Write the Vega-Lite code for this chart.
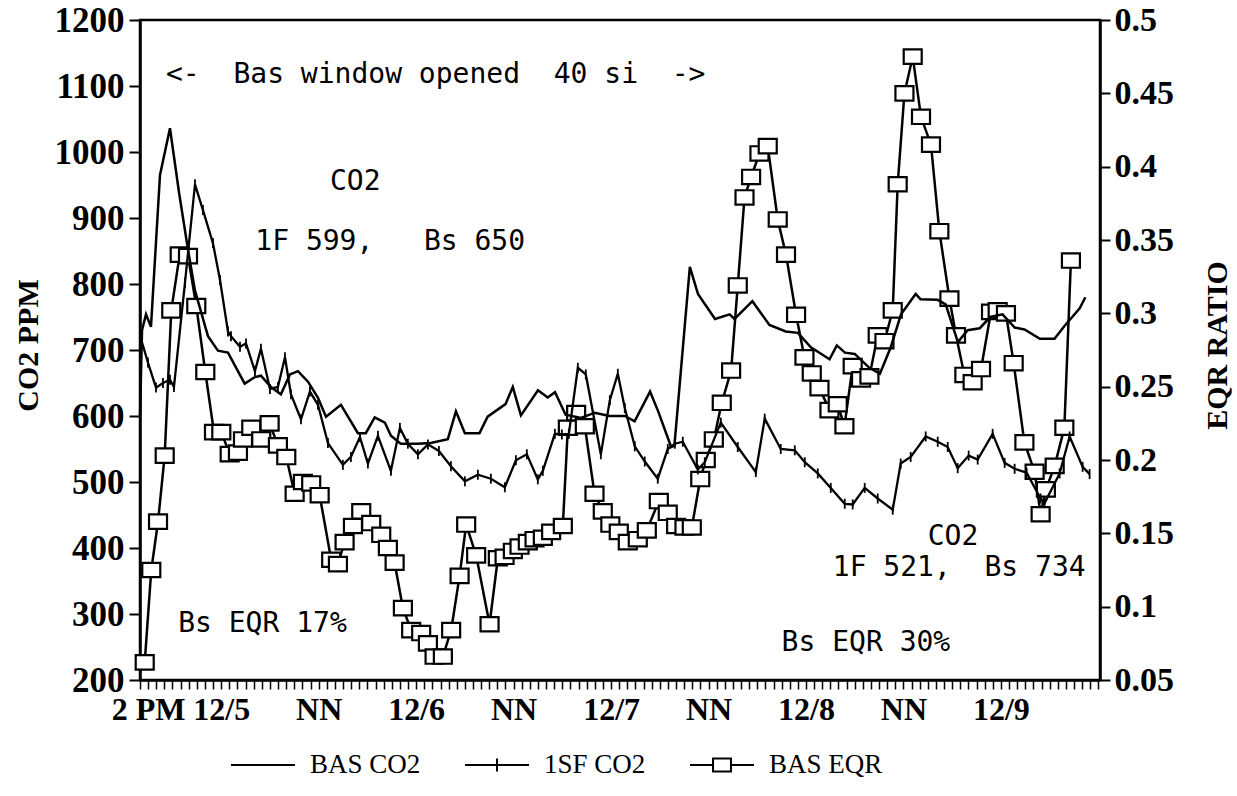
{
  "$schema": "https://vega.github.io/schema/vega-lite/v6.json",
  "width": 960,
  "height": 660,
  "autosize": {"type": "none"},
  "padding": {"left": 140, "top": 20, "right": 137, "bottom": 116},
  "background": "white",
  "config": {
    "view": {"stroke": "black", "strokeWidth": 2.5},
    "axis": {
      "grid": false,
      "domainColor": "black",
      "domainWidth": 2.5,
      "tickColor": "black",
      "tickWidth": 2,
      "labelColor": "black",
      "labelFont": "Liberation Serif",
      "labelFontWeight": "bold",
      "labelFontSize": 34,
      "titleColor": "black",
      "titleFont": "Liberation Serif",
      "titleFontWeight": "bold",
      "titleFontSize": 30
    }
  },
  "datasets": {
    "bas": [
      {"hour": 0, "ppm": 600}, {"hour": 0.25, "ppm": 730}, {"hour": 0.74, "ppm": 754}, {"hour": 1.35, "ppm": 735},
      {"hour": 2.46, "ppm": 965}, {"hour": 3.69, "ppm": 1036}, {"hour": 4.8, "ppm": 939}, {"hour": 5.91, "ppm": 852},
      {"hour": 6.77, "ppm": 790}, {"hour": 8.37, "ppm": 721}, {"hour": 9.6, "ppm": 699}, {"hour": 10.83, "ppm": 696},
      {"hour": 12.89, "ppm": 649}, {"hour": 14.15, "ppm": 659}, {"hour": 14.89, "ppm": 661}, {"hour": 16.12, "ppm": 644},
      {"hour": 17.35, "ppm": 633}, {"hour": 18.46, "ppm": 663}, {"hour": 19.45, "ppm": 668}, {"hour": 20.68, "ppm": 652},
      {"hour": 21.9, "ppm": 628}, {"hour": 22.9, "ppm": 599}, {"hour": 24.74, "ppm": 617}, {"hour": 26.83, "ppm": 574},
      {"hour": 27.8, "ppm": 574}, {"hour": 28.9, "ppm": 598}, {"hour": 30.15, "ppm": 590}, {"hour": 30.9, "ppm": 570},
      {"hour": 32.1, "ppm": 558}, {"hour": 34.2, "ppm": 558}, {"hour": 35.8, "ppm": 559}, {"hour": 37.9, "ppm": 565},
      {"hour": 38.9, "ppm": 607}, {"hour": 40.0, "ppm": 574}, {"hour": 41.8, "ppm": 574}, {"hour": 42.8, "ppm": 599},
      {"hour": 45.0, "ppm": 618}, {"hour": 45.9, "ppm": 644}, {"hour": 46.9, "ppm": 601}, {"hour": 49.0, "ppm": 639},
      {"hour": 50.2, "ppm": 628}, {"hour": 51.1, "ppm": 636}, {"hour": 52.4, "ppm": 602}, {"hour": 54.3, "ppm": 597},
      {"hour": 56.0, "ppm": 605}, {"hour": 57.8, "ppm": 600}, {"hour": 59.7, "ppm": 600}, {"hour": 60.9, "ppm": 592},
      {"hour": 62.8, "ppm": 637}, {"hour": 63.8, "ppm": 607}, {"hour": 65.4, "ppm": 553}, {"hour": 65.8, "ppm": 555},
      {"hour": 67.7, "ppm": 826}, {"hour": 68.7, "ppm": 785}, {"hour": 70.8, "ppm": 747}, {"hour": 72.6, "ppm": 754},
      {"hour": 73.2, "ppm": 747}, {"hour": 75.4, "ppm": 774}, {"hour": 77.5, "ppm": 738}, {"hour": 79.5, "ppm": 728},
      {"hour": 81.0, "ppm": 726}, {"hour": 82.6, "ppm": 704}, {"hour": 84.9, "ppm": 686}, {"hour": 85.8, "ppm": 707},
      {"hour": 86.8, "ppm": 696}, {"hour": 88.0, "ppm": 694}, {"hour": 89.8, "ppm": 673}, {"hour": 91.1, "ppm": 664},
      {"hour": 92.4, "ppm": 703}, {"hour": 93.7, "ppm": 754}, {"hour": 95.5, "ppm": 785}, {"hour": 96.1, "ppm": 777},
      {"hour": 98.2, "ppm": 776}, {"hour": 99.2, "ppm": 769}, {"hour": 100.7, "ppm": 712}, {"hour": 101.9, "ppm": 730},
      {"hour": 103.4, "ppm": 733}, {"hour": 104.7, "ppm": 750}, {"hour": 106.2, "ppm": 754}, {"hour": 107.7, "ppm": 734},
      {"hour": 108.9, "ppm": 731}, {"hour": 110.8, "ppm": 717}, {"hour": 112.6, "ppm": 717}, {"hour": 113.8, "ppm": 736},
      {"hour": 115.7, "ppm": 763}, {"hour": 116.4, "ppm": 780}
    ],
    "sf": [
      {"hour": 0.12, "ppm": 717}, {"hour": 0.98, "ppm": 681}, {"hour": 1.97, "ppm": 643}, {"hour": 2.83, "ppm": 650},
      {"hour": 3.69, "ppm": 655}, {"hour": 4.18, "ppm": 644}, {"hour": 5.54, "ppm": 802}, {"hour": 6.77, "ppm": 951},
      {"hour": 7.75, "ppm": 912}, {"hour": 8.98, "ppm": 862}, {"hour": 9.85, "ppm": 806}, {"hour": 10.83, "ppm": 728},
      {"hour": 11.2, "ppm": 721}, {"hour": 12.31, "ppm": 705}, {"hour": 13.05, "ppm": 710}, {"hour": 14.15, "ppm": 668},
      {"hour": 14.89, "ppm": 702}, {"hour": 16.0, "ppm": 641}, {"hour": 16.98, "ppm": 644}, {"hour": 17.85, "ppm": 689},
      {"hour": 18.58, "ppm": 633}, {"hour": 19.82, "ppm": 595}, {"hour": 20.92, "ppm": 637}, {"hour": 21.91, "ppm": 617},
      {"hour": 23.14, "ppm": 559}, {"hour": 24.98, "ppm": 526}, {"hour": 25.97, "ppm": 538}, {"hour": 27.08, "ppm": 568},
      {"hour": 28.06, "ppm": 528}, {"hour": 29.29, "ppm": 570}, {"hour": 30.89, "ppm": 517}, {"hour": 32.0, "ppm": 582},
      {"hour": 32.98, "ppm": 558}, {"hour": 34.22, "ppm": 542}, {"hour": 35.45, "ppm": 557}, {"hour": 36.8, "ppm": 547},
      {"hour": 38.28, "ppm": 524}, {"hour": 40.0, "ppm": 501}, {"hour": 41.6, "ppm": 511}, {"hour": 43.2, "ppm": 505},
      {"hour": 44.92, "ppm": 492}, {"hour": 46.28, "ppm": 533}, {"hour": 47.63, "ppm": 542}, {"hour": 48.98, "ppm": 504},
      {"hour": 49.6, "ppm": 517}, {"hour": 51.08, "ppm": 573}, {"hour": 51.94, "ppm": 572}, {"hour": 52.8, "ppm": 573},
      {"hour": 53.91, "ppm": 673}, {"hour": 54.89, "ppm": 663}, {"hour": 56.74, "ppm": 542}, {"hour": 57.85, "ppm": 624},
      {"hour": 58.83, "ppm": 664}, {"hour": 59.69, "ppm": 612}, {"hour": 60.92, "ppm": 554}, {"hour": 62.15, "ppm": 531},
      {"hour": 63.75, "ppm": 505}, {"hour": 64.98, "ppm": 550}, {"hour": 65.85, "ppm": 558}, {"hour": 66.83, "ppm": 561},
      {"hour": 68.68, "ppm": 519}, {"hour": 69.54, "ppm": 530}, {"hour": 71.51, "ppm": 590}, {"hour": 73.6, "ppm": 553},
      {"hour": 75.82, "ppm": 515}, {"hour": 76.92, "ppm": 596}, {"hour": 78.89, "ppm": 550}, {"hour": 80.62, "ppm": 548},
      {"hour": 81.85, "ppm": 530}, {"hour": 83.45, "ppm": 513}, {"hour": 85.05, "ppm": 491}, {"hour": 86.77, "ppm": 467},
      {"hour": 87.75, "ppm": 466}, {"hour": 89.23, "ppm": 491}, {"hour": 90.83, "ppm": 475}, {"hour": 92.68, "ppm": 458},
      {"hour": 93.66, "ppm": 528}, {"hour": 94.89, "ppm": 538}, {"hour": 96.74, "ppm": 569}, {"hour": 98.22, "ppm": 561},
      {"hour": 99.45, "ppm": 553}, {"hour": 100.68, "ppm": 521}, {"hour": 102.03, "ppm": 540}, {"hour": 103.14, "ppm": 534},
      {"hour": 104.98, "ppm": 573}, {"hour": 106.46, "ppm": 529}, {"hour": 107.69, "ppm": 520}, {"hour": 109.17, "ppm": 514},
      {"hour": 110.89, "ppm": 475}, {"hour": 111.38, "ppm": 468}, {"hour": 113.23, "ppm": 513}, {"hour": 114.46, "ppm": 569},
      {"hour": 116.06, "ppm": 523}, {"hour": 116.92, "ppm": 512}
    ],
    "eqr": [
      {"hour": 0.58, "eqr": 0.062}, {"hour": 1.39, "eqr": 0.125}, {"hour": 2.22, "eqr": 0.158}, {"hour": 3.04, "eqr": 0.203},
      {"hour": 3.85, "eqr": 0.302}, {"hour": 4.89, "eqr": 0.340}, {"hour": 5.91, "eqr": 0.339}, {"hour": 6.93, "eqr": 0.305},
      {"hour": 8.04, "eqr": 0.260}, {"hour": 9.11, "eqr": 0.219}, {"hour": 10.01, "eqr": 0.219}, {"hour": 11.04, "eqr": 0.204},
      {"hour": 12.06, "eqr": 0.205}, {"hour": 12.68, "eqr": 0.214}, {"hour": 13.70, "eqr": 0.222}, {"hour": 14.93, "eqr": 0.214},
      {"hour": 15.96, "eqr": 0.225}, {"hour": 16.98, "eqr": 0.210}, {"hour": 18.01, "eqr": 0.202}, {"hour": 19.04, "eqr": 0.177},
      {"hour": 20.06, "eqr": 0.185}, {"hour": 21.08, "eqr": 0.184}, {"hour": 22.12, "eqr": 0.176}, {"hour": 23.54, "eqr": 0.132},
      {"hour": 24.37, "eqr": 0.129}, {"hour": 25.19, "eqr": 0.144}, {"hour": 26.22, "eqr": 0.155}, {"hour": 27.24, "eqr": 0.165},
      {"hour": 28.47, "eqr": 0.157}, {"hour": 29.70, "eqr": 0.149}, {"hour": 30.52, "eqr": 0.140}, {"hour": 31.35, "eqr": 0.130},
      {"hour": 32.37, "eqr": 0.099}, {"hour": 33.39, "eqr": 0.084}, {"hour": 34.62, "eqr": 0.082}, {"hour": 35.45, "eqr": 0.075},
      {"hour": 36.27, "eqr": 0.066}, {"hour": 37.29, "eqr": 0.066}, {"hour": 38.31, "eqr": 0.084}, {"hour": 39.35, "eqr": 0.121},
      {"hour": 40.16, "eqr": 0.156}, {"hour": 41.39, "eqr": 0.135}, {"hour": 43.04, "eqr": 0.088}, {"hour": 44.06, "eqr": 0.133},
      {"hour": 44.89, "eqr": 0.134}, {"hour": 45.91, "eqr": 0.138}, {"hour": 46.73, "eqr": 0.141}, {"hour": 47.75, "eqr": 0.144},
      {"hour": 48.58, "eqr": 0.146}, {"hour": 49.60, "eqr": 0.147}, {"hour": 50.62, "eqr": 0.151}, {"hour": 52.06, "eqr": 0.155},
      {"hour": 52.68, "eqr": 0.222}, {"hour": 53.70, "eqr": 0.232}, {"hour": 54.77, "eqr": 0.223}, {"hour": 55.96, "eqr": 0.177},
      {"hour": 56.98, "eqr": 0.165}, {"hour": 57.91, "eqr": 0.156}, {"hour": 58.95, "eqr": 0.151}, {"hour": 60.06, "eqr": 0.144},
      {"hour": 61.29, "eqr": 0.146}, {"hour": 62.40, "eqr": 0.152}, {"hour": 63.88, "eqr": 0.172}, {"hour": 64.98, "eqr": 0.164},
      {"hour": 66.01, "eqr": 0.155}, {"hour": 67.04, "eqr": 0.154}, {"hour": 67.94, "eqr": 0.154}, {"hour": 68.98, "eqr": 0.187},
      {"hour": 69.66, "eqr": 0.200}, {"hour": 70.65, "eqr": 0.214}, {"hour": 71.63, "eqr": 0.239}, {"hour": 72.78, "eqr": 0.261},
      {"hour": 73.60, "eqr": 0.319}, {"hour": 74.43, "eqr": 0.379}, {"hour": 75.24, "eqr": 0.393}, {"hour": 76.27, "eqr": 0.409},
      {"hour": 77.29, "eqr": 0.414}, {"hour": 78.52, "eqr": 0.364}, {"hour": 79.54, "eqr": 0.340}, {"hour": 80.78, "eqr": 0.299},
      {"hour": 81.81, "eqr": 0.270}, {"hour": 82.71, "eqr": 0.259}, {"hour": 83.66, "eqr": 0.249}, {"hour": 84.89, "eqr": 0.234},
      {"hour": 85.91, "eqr": 0.238}, {"hour": 86.73, "eqr": 0.223}, {"hour": 87.75, "eqr": 0.264}, {"hour": 88.78, "eqr": 0.255},
      {"hour": 89.81, "eqr": 0.257}, {"hour": 90.83, "eqr": 0.285}, {"hour": 91.66, "eqr": 0.281}, {"hour": 92.68, "eqr": 0.302},
      {"hour": 93.29, "eqr": 0.388}, {"hour": 94.12, "eqr": 0.450}, {"hour": 95.14, "eqr": 0.475}, {"hour": 96.16, "eqr": 0.434},
      {"hour": 97.39, "eqr": 0.415}, {"hour": 98.42, "eqr": 0.356}, {"hour": 99.66, "eqr": 0.310}, {"hour": 100.47, "eqr": 0.285},
      {"hour": 101.50, "eqr": 0.258}, {"hour": 102.52, "eqr": 0.253}, {"hour": 103.55, "eqr": 0.262}, {"hour": 104.78, "eqr": 0.301},
      {"hour": 105.60, "eqr": 0.302}, {"hour": 106.62, "eqr": 0.300}, {"hour": 107.57, "eqr": 0.266}, {"hour": 108.89, "eqr": 0.212},
      {"hour": 110.15, "eqr": 0.192}, {"hour": 110.89, "eqr": 0.163}, {"hour": 111.54, "eqr": 0.180}, {"hour": 112.62, "eqr": 0.196},
      {"hour": 113.81, "eqr": 0.222}, {"hour": 114.62, "eqr": 0.336}
    ],
    "notesLeft": [
      {"hour": 3.2, "ppm": 1117, "label": "<-\u00a0\u00a0Bas window opened\u00a0\u00a040 si\u00a0\u00a0->"},
      {"hour": 14.2, "ppm": 864, "label": "1F 599,\u00a0\u00a0\u00a0Bs 650"},
      {"hour": 4.7, "ppm": 285, "label": "Bs EQR 17%"},
      {"hour": 85.3, "ppm": 370, "label": "1F 521,\u00a0\u00a0Bs 734"},
      {"hour": 79.0, "ppm": 256, "label": "Bs EQR 30%"}
    ],
    "notesCenter": [
      {"hour": 26.5, "ppm": 955, "label": "CO2"},
      {"hour": 100.1, "ppm": 417, "label": "CO2"}
    ]
  },
  "layer": [
    {
      "layer": [
        {
          "data": {"name": "eqr"},
          "mark": {"type": "line", "strokeWidth": 2.5},
          "encoding": {
            "x": {"field": "hour", "type": "quantitative", "scale": {"domain": [0, 118.2], "nice": false, "zero": false},
              "axis": {
                "title": null,
                "values": [0,1,2,3,4,5,6,7,8,9,10,11,12,13,14,15,16,17,18,19,20,21,22,23,24,25,26,27,28,29,30,31,32,33,34,35,36,37,38,39,40,41,42,43,44,45,46,47,48,49,50,51,52,53,54,55,56,57,58,59,60,61,62,63,64,65,66,67,68,69,70,71,72,73,74,75,76,77,78,79,80,81,82,83,84,85,86,87,88,89,90,91,92,93,94,95,96,97,98,99,100,101,102,103,104,105,106,107,108,109,110,111,112,113,114,115,116,117,118],
                "tickCount": 200,
                "labelExpr": "datum.value == 1 ? '2 PM' : datum.value == 10 ? '12/5' : (datum.value == 22 || datum.value == 46 || datum.value == 70 || datum.value == 94) ? 'NN' : datum.value == 34 ? '12/6' : datum.value == 58 ? '12/7' : datum.value == 82 ? '12/8' : datum.value == 106 ? '12/9' : ''",
                "labelOverlap": false,
                "labelFlush": false,
                "labelFontSize": 32,
                "tickSize": 9,
                "tickWidth": 1.5,
                "labelPadding": 5
              }
            },
            "y": {"field": "eqr", "type": "quantitative", "scale": {"domain": [0.05, 0.5], "nice": false, "zero": false},
              "axis": {
                "orient": "right",
                "values": [0.05, 0.1, 0.15, 0.2, 0.25, 0.3, 0.35, 0.4, 0.45, 0.5],
                "tickCount": 20,
                "format": "~g",
                "tickSize": 10,
                "labelPadding": 4,
                "title": "EQR  RATIO",
                "titleAngle": 270,
                "titleX": 117,
                "titleY": 325,
                "titleAlign": "center",
                "titleBaseline": "middle"
              }
            },
            "color": {"datum": "BAS EQR"}
          }
        },
        {
          "data": {"name": "eqr"},
          "mark": {"type": "point", "shape": "M-1,-0.8H1V0.8H-1Z", "size": 324, "filled": false, "fill": "white", "fillOpacity": 1, "strokeWidth": 2.2, "opacity": 1},
          "encoding": {
            "x": {"field": "hour", "type": "quantitative", "scale": {"domain": [0, 118.2], "nice": false, "zero": false}},
            "y": {"field": "eqr", "type": "quantitative"},
            "color": {"datum": "BAS EQR"}
          }
        }
      ]
    },
    {
      "layer": [
        {
          "data": {"name": "bas"},
          "mark": {"type": "line", "strokeWidth": 2.5},
          "encoding": {
            "x": {"field": "hour", "type": "quantitative", "scale": {"domain": [0, 118.2], "nice": false, "zero": false}},
            "y": {"field": "ppm", "type": "quantitative", "scale": {"domain": [200, 1200], "nice": false, "zero": false},
              "axis": {
                "orient": "left",
                "values": [200, 300, 400, 500, 600, 700, 800, 900, 1000, 1100, 1200],
                "tickCount": 20,
                "format": "d",
                "labelFontSize": 35,
                "tickSize": 11,
                "labelPadding": 5,
                "title": "CO2  PPM",
                "titleAngle": 270,
                "titleX": -112,
                "titleY": 325,
                "titleAlign": "center",
                "titleBaseline": "middle"
              }
            },
            "color": {
              "datum": "BAS CO2",
              "scale": {"domain": ["BAS CO2", "1SF CO2", "BAS EQR"], "range": ["black", "black", "black"]},
              "legend": {
                "orient": "none",
                "legendX": 90,
                "legendY": 712,
                "direction": "horizontal",
                "title": null,
                "padding": 0,
                "symbolSize": 4096,
                "symbolStrokeWidth": 2,
                "labelFont": "Liberation Serif",
                "labelFontSize": 27,
                "labelColor": "black",
                "labelOffset": 14,
                "columnPadding": 40,
                "encode": {
                  "symbols": {
                    "update": {
                      "shape": {"signal": "datum.value == 'BAS CO2' ? 'M-1,0H1' : datum.value == '1SF CO2' ? 'M-1,0H1M0,-0.2V0.2' : 'M-1,0H-0.28M0.28,0H1M-0.28,-0.2H0.28V0.2H-0.28Z'"},
                      "stroke": {"value": "black"},
                      "fill": {"value": "white"},
                      "fillOpacity": {"value": 1},
                      "opacity": {"value": 1},
                      "strokeWidth": {"value": 2},
                      "size": {"value": 4096}
                    }
                  }
                }
              }
            }
          }
        },
        {
          "data": {"name": "sf"},
          "mark": {"type": "line", "strokeWidth": 2.3},
          "encoding": {
            "x": {"field": "hour", "type": "quantitative", "scale": {"domain": [0, 118.2], "nice": false, "zero": false}},
            "y": {"field": "ppm", "type": "quantitative"},
            "color": {"datum": "1SF CO2"}
          }
        },
        {
          "data": {"name": "sf"},
          "mark": {"type": "point", "shape": "M0,-1V1", "size": 100, "filled": false, "strokeWidth": 1.8, "opacity": 1},
          "encoding": {
            "x": {"field": "hour", "type": "quantitative", "scale": {"domain": [0, 118.2], "nice": false, "zero": false}},
            "y": {"field": "ppm", "type": "quantitative"},
            "color": {"datum": "1SF CO2"}
          }
        },
        {
          "data": {"name": "notesLeft"},
          "mark": {"type": "text", "font": "DejaVu Sans Mono", "fontSize": 28, "baseline": "middle", "align": "left", "color": "black"},
          "encoding": {
            "x": {"field": "hour", "type": "quantitative", "scale": {"domain": [0, 118.2], "nice": false, "zero": false}},
            "y": {"field": "ppm", "type": "quantitative"},
            "text": {"field": "label"}
          }
        },
        {
          "data": {"name": "notesCenter"},
          "mark": {"type": "text", "font": "DejaVu Sans Mono", "fontSize": 28, "baseline": "middle", "align": "center", "color": "black"},
          "encoding": {
            "x": {"field": "hour", "type": "quantitative", "scale": {"domain": [0, 118.2], "nice": false, "zero": false}},
            "y": {"field": "ppm", "type": "quantitative"},
            "text": {"field": "label"}
          }
        }
      ]
    }
  ],
  "resolve": {"scale": {"y": "independent"}}
}
